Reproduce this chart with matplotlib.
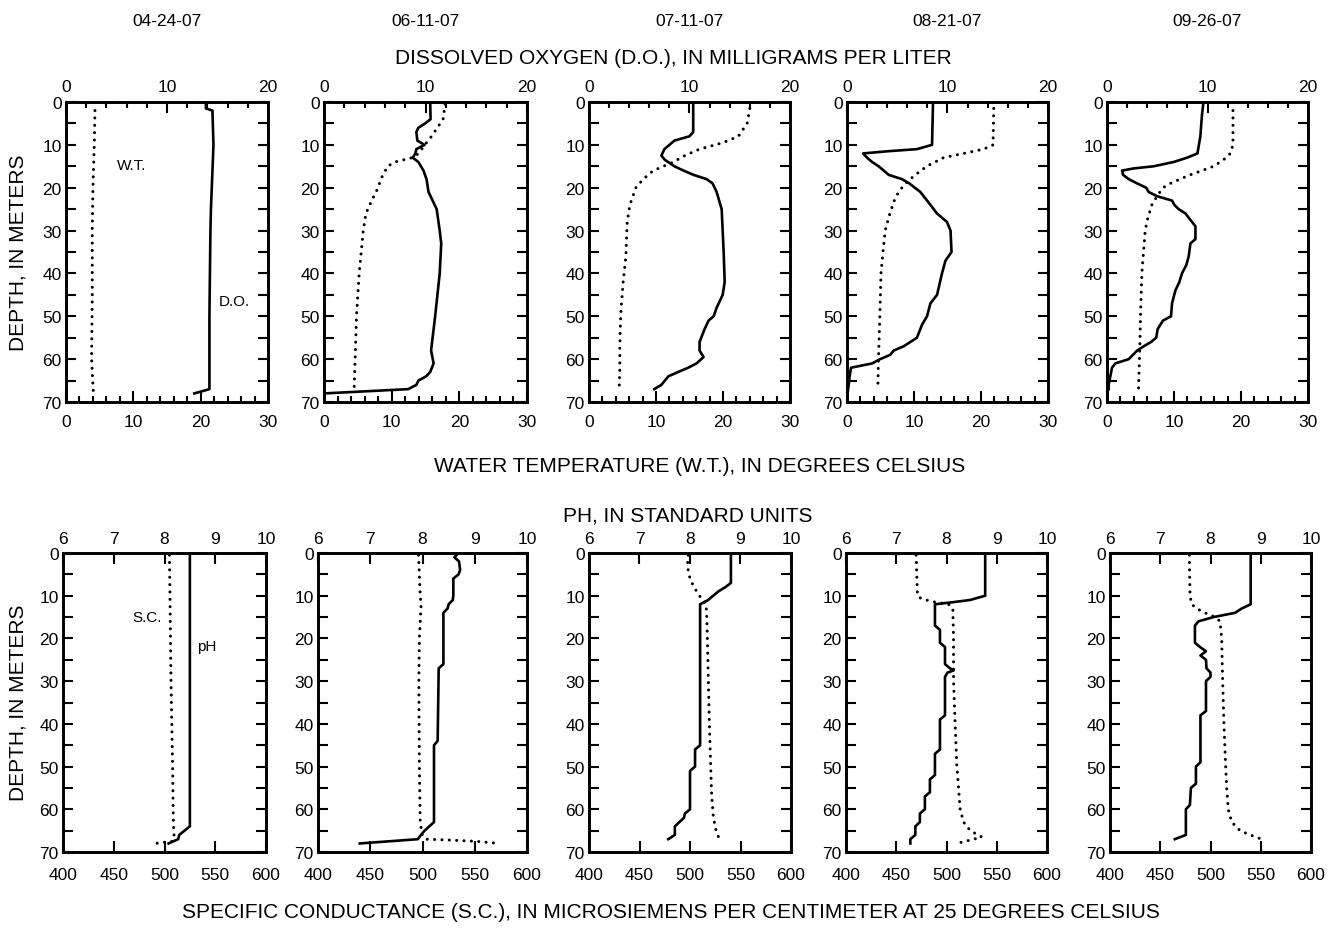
import matplotlib
matplotlib.use("Agg")
import matplotlib.pyplot as plt
from matplotlib.ticker import MultipleLocator, FixedLocator

plt.rcParams['font.family'] = ['Liberation Sans', 'DejaVu Sans']

dates = ["04-24-07", "06-11-07", "07-11-07", "08-21-07", "09-26-07"]

# ---- Dissolved oxygen (mg/L) profiles: depth (m), value ----
do_depth_0424 = [0, 1.5, 2, 10, 25, 30, 50, 67, 67.6, 68]
do_0424 = [13.85, 13.85, 14.5, 14.6, 14.35, 14.3, 14.2, 14.2, 13.3, 12.7]
do_depth_0611 = [0, 4, 5, 6, 7, 9, 10, 11, 12, 13, 14, 16, 18, 21, 25, 30, 33,
                 40, 50, 58, 61, 63, 64, 65, 66, 67, 68]
do_0611 = [10.46, 10.5, 9.97, 9.3, 9.1, 9.2, 9.9, 9.1, 9.0, 8.75, 9.3, 9.8, 10.1,
           10.3, 11.1, 11.4, 11.55, 11.4, 10.95, 10.55, 10.8, 10.46, 10.07, 9.3,
           9.1, 8.3, 0.0]
do_depth_0711 = [0, 7, 8, 9, 10, 11, 12.5, 13.5, 15, 16, 17, 18, 19, 21, 25, 30,
                 35, 42, 45, 48, 50, 51, 53, 56, 58, 59.5, 61, 62, 63, 64, 66, 67]
do_0711 = [10.37, 10.37, 10.0, 8.5, 8.0, 7.5, 7.2, 7.55, 8.5, 9.4, 10.4, 11.7,
           12.3, 12.7, 13.2, 13.3, 13.4, 13.5, 13.3, 12.7, 12.4, 11.9, 11.5, 11.0,
           11.0, 11.4, 10.7, 9.87, 8.87, 7.9, 7.2, 6.5]
do_depth_0821 = [0, 10, 11, 11.5, 12, 13, 14, 15, 17, 18, 19, 21, 24, 26, 28, 30,
                 35, 37, 40, 45, 47, 50, 52, 55, 57, 58, 59, 60, 61, 62, 64, 66, 69]
do_0821 = [8.56, 8.46, 6.96, 4.0, 1.6, 2.0, 2.5, 3.15, 4.15, 5.47, 6.2, 7.3, 8.3,
           8.95, 9.95, 10.3, 10.4, 9.8, 9.45, 8.96, 8.3, 7.96, 7.46, 6.96, 5.64,
           4.64, 4.3, 3.3, 2.5, 0.4, 0.26, 0.17, 0.0]
do_depth_0926 = [0, 3, 8, 12, 13, 14, 15, 15.5, 16, 17, 18, 19, 20, 21, 22, 23,
                 24, 25, 26, 28, 29, 32, 33, 36, 38, 40, 42, 44, 47, 50, 51, 53,
                 55, 56, 57, 58, 60, 61, 62, 64, 66, 67]
do_0926 = [9.6, 9.45, 9.29, 9.0, 7.96, 6.63, 4.64, 2.65, 1.5, 1.6, 2.16, 3.0, 3.9,
           4.15, 5.0, 6.47, 6.7, 7.13, 7.8, 8.46, 8.8, 8.8, 8.3, 8.13, 7.9, 7.46,
           7.2, 6.8, 6.47, 6.37, 5.57, 5.04, 4.9, 4.38, 3.65, 3.0, 2.16, 0.83,
           0.5, 0.33, 0.17, 0.17]

# ---- Water temperature (deg C) profiles ----
wt_depth_0424 = [2, 10, 20, 30, 45, 60, 67.5]
wt_0424 = [4.3, 4.2, 4.0, 3.9, 3.9, 3.8, 4.05]
wt_depth_0611 = [0.5, 4, 8, 10, 12, 13, 14, 15, 18, 20, 23, 26, 30, 35, 40, 50,
                 55, 60, 67]
wt_0611 = [17.9, 17.6, 15.9, 14.9, 14.0, 13.0, 10.5, 9.4, 8.4, 8.0, 7.05, 6.2,
           5.8, 5.5, 5.2, 4.8, 4.7, 4.6, 4.45]
wt_depth_0711 = [1.5, 5, 8, 9.5, 11, 12.5, 14, 16, 18, 20, 24, 28, 32, 36, 42,
                 48, 51, 57, 62, 67]
wt_0711 = [24.0, 23.6, 22.3, 20.0, 16.5, 14.3, 12.6, 9.6, 8.1, 7.0, 6.1, 5.7,
           5.6, 5.5, 5.1, 4.8, 4.7, 4.6, 4.6, 4.5]
wt_depth_0821 = [1.5, 10, 11, 12, 13, 15, 17, 19, 21, 23, 26, 30, 35, 40, 50,
                 60, 67]
wt_0821 = [21.9, 21.8, 20.4, 17.4, 14.4, 11.9, 10.2, 8.7, 7.7, 7.06, 6.4, 5.7,
           5.37, 5.07, 4.9, 4.7, 4.6]
wt_depth_0926 = [2, 10, 12, 13, 14, 15, 16, 17, 18, 19, 20, 22, 24, 27, 30, 34,
                 40, 50, 57, 67]
wt_0926 = [18.8, 18.8, 18.4, 17.8, 16.9, 15.9, 14.2, 12.4, 10.9, 9.45, 8.36,
           7.46, 6.7, 6.1, 5.7, 5.5, 5.2, 5.0, 4.9, 4.7]

# ---- pH (standard units) profiles ----
ph_depth_0424 = [0, 64, 66, 67, 68]
ph_0424 = [8.5, 8.5, 8.29, 8.27, 8.08]
ph_depth_0611 = [0, 1, 2, 4, 5, 6, 10, 11, 12, 13, 14, 26, 27, 44, 45, 63, 65,
                 66, 67, 68]
ph_0611 = [8.69, 8.61, 8.7, 8.72, 8.69, 8.59, 8.59, 8.58, 8.5, 8.48, 8.4, 8.4,
           8.31, 8.29, 8.22, 8.22, 8.04, 7.97, 7.91, 6.8]
ph_depth_0711 = [0, 7, 8, 9, 10, 11, 11.5, 12, 45, 46, 50, 51, 60, 61, 62, 64,
                 66, 67]
ph_0711 = [8.81, 8.81, 8.7, 8.56, 8.46, 8.36, 8.28, 8.2, 8.2, 8.1, 8.1, 8.0, 8.0,
           7.9, 7.88, 7.7, 7.7, 7.57]
ph_depth_0821 = [0, 10, 11, 11.5, 12, 17, 18, 21, 22, 26, 27, 27.5, 28, 29, 38,
                 39, 46, 47, 52, 53, 56, 57, 60, 61, 63, 64, 66, 67, 68]
ph_0821 = [8.77, 8.77, 8.47, 8.14, 7.77, 7.77, 7.87, 7.87, 7.97, 7.97, 8.07,
           8.14, 8.02, 7.97, 7.97, 7.87, 7.87, 7.77, 7.77, 7.67, 7.67, 7.57,
           7.57, 7.47, 7.47, 7.38, 7.38, 7.28, 7.28]
ph_depth_0926 = [0, 12, 13, 14, 15, 16, 17, 21, 22, 23, 24, 25, 27, 28, 29, 30,
                 37, 38, 49, 50, 54, 55, 59, 60, 66, 67]
ph_0926 = [8.8, 8.8, 8.62, 8.49, 8.06, 7.76, 7.69, 7.69, 7.79, 7.91, 7.8, 7.91,
           7.92, 8.0, 8.0, 7.91, 7.91, 7.8, 7.8, 7.71, 7.71, 7.61, 7.59, 7.51,
           7.51, 7.29]

# ---- Specific conductance (uS/cm at 25 deg C) profiles ----
sc_depth_0424 = [0.5, 10, 30, 50, 63, 66, 67.5, 68]
sc_0424 = [504.8, 505.4, 506.4, 508, 508.7, 509.4, 508, 490.6]
sc_depth_0611 = [0.5, 10, 12, 20, 30, 50, 63, 66, 67, 67.2, 67.5, 68]
sc_0611 = [496.2, 497.8, 498.7, 497, 496.5, 497, 497.8, 499.7, 502.9, 525.8,
           551, 573.6]
sc_depth_0711 = [0.5, 3, 6, 8, 10, 12, 15, 20, 30, 40, 50, 57, 62, 65, 67]
sc_0711 = [498.3, 497.4, 500, 504, 509.3, 515.9, 516.6, 517.2, 518.2, 519.2,
           520.5, 521.5, 523.2, 525.8, 529.1]
sc_depth_0821 = [0.5, 10, 10.5, 11, 11.5, 12, 13, 20, 30, 40, 50, 55, 60, 63, 65,
                 66.5, 67, 68]
sc_0821 = [469.8, 471.1, 473.8, 479.7, 488.7, 502, 506.3, 507, 507, 508.6, 510.3,
           512, 513.6, 517, 523.6, 535, 527, 510.3]
sc_depth_0926 = [0.5, 10, 12, 13, 14, 15, 16, 20, 30, 40, 50, 55, 60, 63, 65, 66,
                 67]
sc_0926 = [478.9, 479.6, 481.3, 486.2, 494.5, 504.5, 509.5, 511.1, 512.1, 513.4,
           515.1, 516.1, 517.7, 521.1, 529.4, 539.3, 550.9]

do_series = [(do_depth_0424, do_0424), (do_depth_0611, do_0611),
             (do_depth_0711, do_0711), (do_depth_0821, do_0821),
             (do_depth_0926, do_0926)]
wt_series = [(wt_depth_0424, wt_0424), (wt_depth_0611, wt_0611),
             (wt_depth_0711, wt_0711), (wt_depth_0821, wt_0821),
             (wt_depth_0926, wt_0926)]
ph_series = [(ph_depth_0424, ph_0424), (ph_depth_0611, ph_0611),
             (ph_depth_0711, ph_0711), (ph_depth_0821, ph_0821),
             (ph_depth_0926, ph_0926)]
sc_series = [(sc_depth_0424, sc_0424), (sc_depth_0611, sc_0611),
             (sc_depth_0711, sc_0711), (sc_depth_0821, sc_0821),
             (sc_depth_0926, sc_0926)]

W, H = 1329, 929
fig = plt.figure(figsize=(W / 100, H / 100), dpi=100)

# panel frames in pixels: (left, right)
top_cols = [(66, 268), (324, 527), (589, 790), (847, 1048), (1107, 1308)]
bot_cols = [(63, 266), (318, 527), (589, 791), (846, 1047), (1110, 1311)]
top_row = (103, 403)
bot_row = (554, 853)

SPINE_W = 1.9
LINE_W = 1.9
TICK_FS = 12.5
TITLE_FS = 15
DOT_STYLE = dict(color="black", lw=2.2, linestyle=(0, (0.01, 2.4)),
                 dash_capstyle="round")
SOLID_STYLE = dict(color="black", lw=LINE_W, solid_joinstyle="round")


def frame(cols, row):
    l, r = cols
    t, b = row
    return [l / W, 1 - b / H, (r - l) / W, (b - t) / H]


def style_depth_axis(ax, show_labels):
    ax.set_ylim(70, 0)
    ax.yaxis.set_major_locator(MultipleLocator(10))
    ax.yaxis.set_minor_locator(MultipleLocator(5))
    ax.tick_params(axis="y", which="both", direction="in", left=True,
                   right=True, labelleft=show_labels, labelright=False,
                   length=7, width=1.5, pad=3, labelsize=TICK_FS)
    for s in ax.spines.values():
        s.set_linewidth(SPINE_W)


def setup_panel(ax, axt, bottom_lim, bottom_major, bottom_minor,
                top_lim, top_major, top_minor, bottom_pad, top_pad):
    ax.set_xlim(*bottom_lim)
    ax.xaxis.set_major_locator(FixedLocator(bottom_major))
    if bottom_minor is not None:
        ax.xaxis.set_minor_locator(FixedLocator(bottom_minor))
    ax.tick_params(axis="x", which="major", direction="in", bottom=True,
                   top=False, length=8, width=1.5, pad=bottom_pad,
                   labelsize=TICK_FS)
    ax.tick_params(axis="x", which="minor", direction="in", bottom=True,
                   top=False, length=4, width=1.5)
    axt.set_xlim(*top_lim)
    axt.xaxis.set_major_locator(FixedLocator(top_major))
    if top_minor is not None:
        axt.xaxis.set_minor_locator(FixedLocator(top_minor))
    axt.tick_params(axis="x", which="major", direction="in", top=True,
                    bottom=False, length=8, width=1.5, pad=top_pad,
                    labelsize=TICK_FS)
    axt.tick_params(axis="x", which="minor", direction="in", top=True,
                    bottom=False, length=4, width=1.5)
    for s in axt.spines.values():
        s.set_linewidth(SPINE_W)


# ---------------- top row: D.O. (top axis) and W.T. (bottom axis) -------------
for i in range(5):
    ax = fig.add_axes(frame(top_cols[i], top_row))
    style_depth_axis(ax, True)
    axt = ax.twiny()
    setup_panel(ax, axt, (0, 30), [0, 10, 20, 30], list(range(2, 30, 2)),
                (0, 20), [0, 10, 20], list(range(2, 20, 2)),
                bottom_pad=9, top_pad=6)
    wd, wv = wt_series[i]
    ax.plot(wv, wd, **DOT_STYLE)
    dd, dv = do_series[i]
    axt.plot(dv, dd, **SOLID_STYLE)
    if i == 0:
        ax.text(9.8, 14.8, "W.T.", fontsize=11, ha="center", va="center")
        ax.text(25.0, 46.4, "D.O.", fontsize=11, ha="center", va="center")

# ---------------- bottom row: pH (top axis) and S.C. (bottom axis) ------------
for i in range(5):
    ax = fig.add_axes(frame(bot_cols[i], bot_row))
    style_depth_axis(ax, True)
    axt = ax.twiny()
    setup_panel(ax, axt, (400, 600), [400, 450, 500, 550, 600], None,
                (6, 10), [6, 7, 8, 9, 10], None,
                bottom_pad=11, top_pad=5)
    sd, sv = sc_series[i]
    ax.plot(sv, sd, **DOT_STYLE)
    pd_, pv = ph_series[i]
    axt.plot(pv, pd_, **SOLID_STYLE)
    if i == 0:
        ax.text(483, 15.0, "S.C.", fontsize=11, ha="center", va="center")
        ax.text(542, 21.8, "pH", fontsize=11, ha="center", va="center")

# ---------------- headings ----------------
for i, d in enumerate(dates):
    l, r = top_cols[i]
    fig.text((l + r) / 2 / W, 1 - 22 / H, d, fontsize=TICK_FS,
             ha="center", va="center")

fig.text(673 / W, 1 - 58 / H, "DISSOLVED OXYGEN (D.O.), IN MILLIGRAMS PER LITER",
         fontsize=TITLE_FS, ha="center", va="center")
fig.text(700 / W, 1 - 467 / H, "WATER TEMPERATURE (W.T.), IN DEGREES CELSIUS",
         fontsize=TITLE_FS, ha="center", va="center")
fig.text(688 / W, 1 - 516 / H, "PH, IN STANDARD UNITS",
         fontsize=TITLE_FS, ha="center", va="center")
fig.text(671 / W, 1 - 913 / H,
         "SPECIFIC CONDUCTANCE (S.C.), IN MICROSIEMENS PER CENTIMETER AT 25 DEGREES CELSIUS",
         fontsize=TITLE_FS, ha="center", va="center")
fig.text(18 / W, 1 - 253 / H, "DEPTH, IN METERS", fontsize=TITLE_FS,
         rotation=90, ha="center", va="center")
fig.text(18 / W, 1 - 703 / H, "DEPTH, IN METERS", fontsize=TITLE_FS,
         rotation=90, ha="center", va="center")

fig.savefig("out.png", dpi=100, facecolor="white")
